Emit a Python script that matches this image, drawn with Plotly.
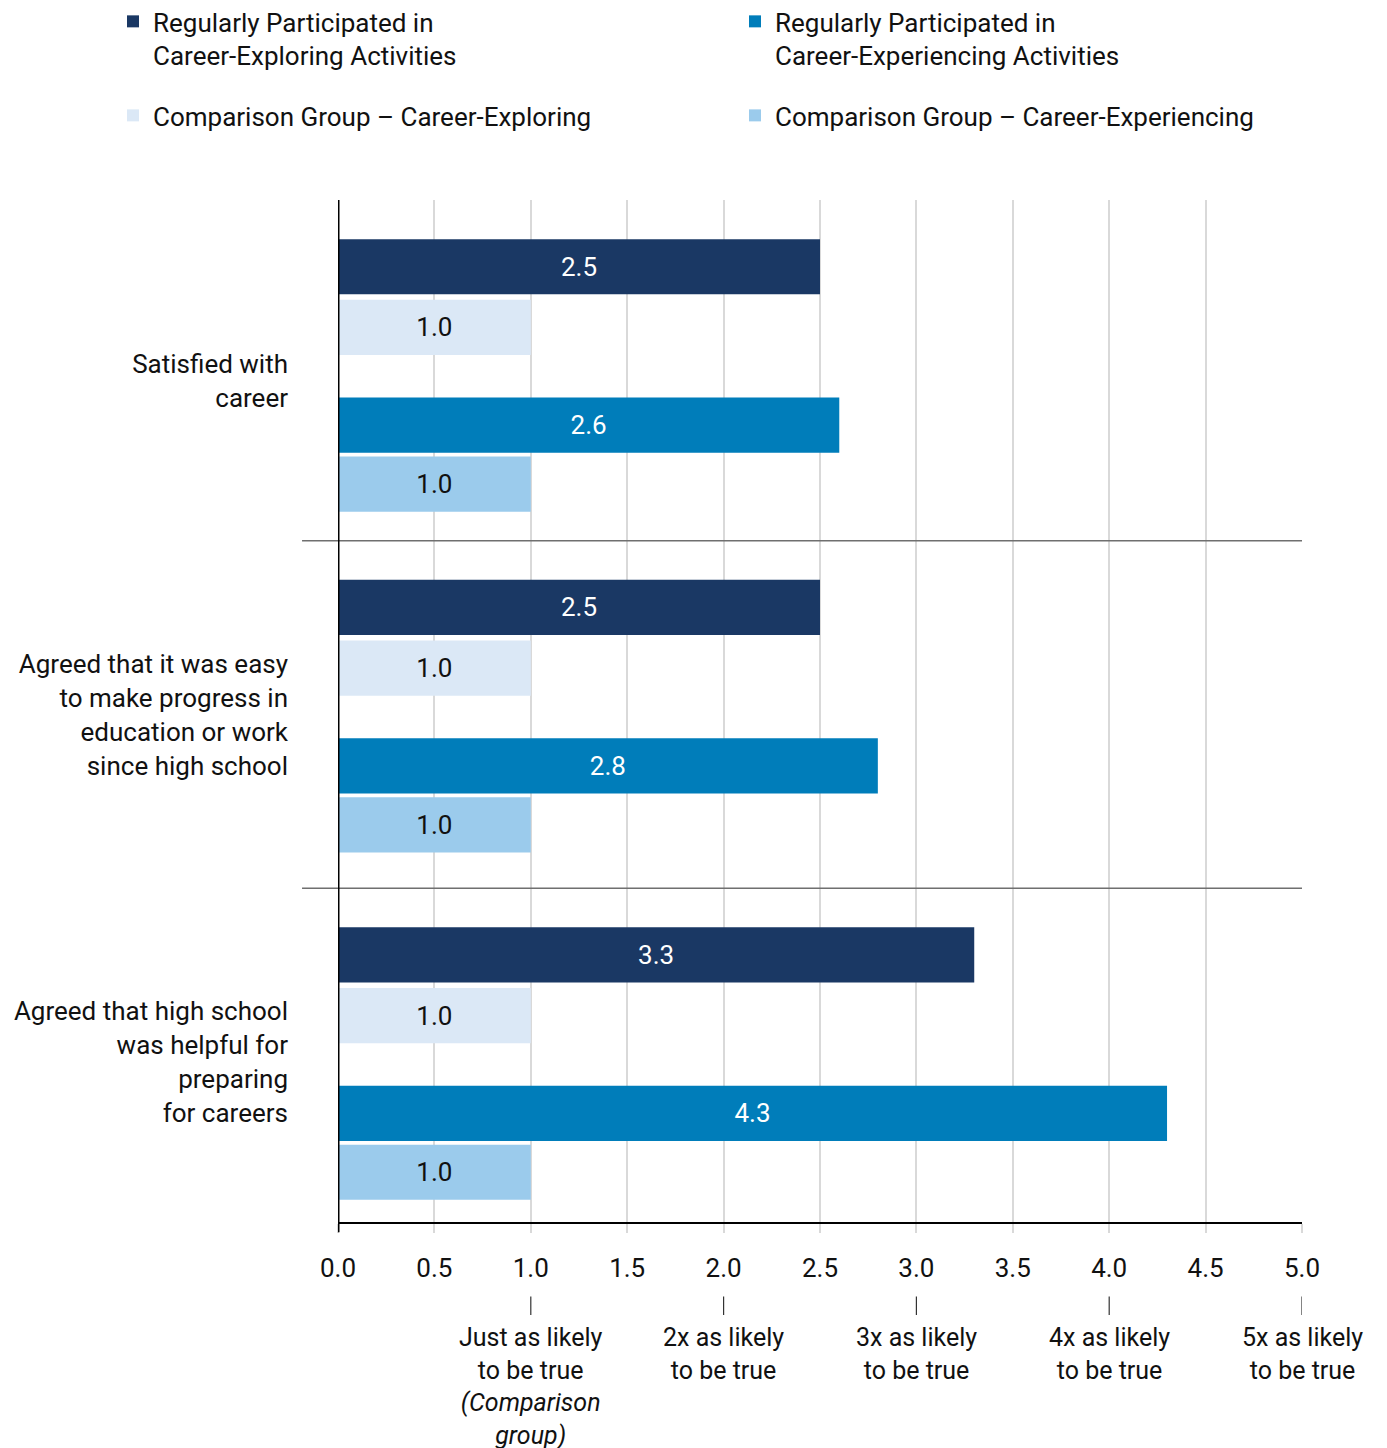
import plotly.graph_objects as go

# Outcome categories (one group of four bars each)
categories = [
    "Satisfied with<br>career",
    "Agreed that it was easy<br>to make progress in<br>education or work<br>since high school",
    "Agreed that high school<br>was helpful for<br>preparing<br>for careers",
]

# Relative likelihood values per series
exploring = [2.5, 2.5, 3.3]
comp_exploring = [1.0, 1.0, 1.0]
experiencing = [2.6, 2.8, 4.3]
comp_experiencing = [1.0, 1.0, 1.0]

series_names = [
    "Regularly Participated in<br>Career-Exploring Activities",
    "Comparison Group – Career-Exploring",
    "Regularly Participated in<br>Career-Experiencing Activities",
    "Comparison Group – Career-Experiencing",
]

# Axis tick labels and the explanatory labels under them
x_ticks = [0.0, 0.5, 1.0, 1.5, 2.0, 2.5, 3.0, 3.5, 4.0, 4.5, 5.0]
likelihood_ticks = [1, 2, 3, 4, 5]
likelihood_labels = [
    "Just as likely<br>to be true<br><i>(Comparison<br>group)</i>",
    "2x as likely<br>to be true",
    "3x as likely<br>to be true",
    "4x as likely<br>to be true",
    "5x as likely<br>to be true",
]

# Layout of the category bands on the y axis
group_starts = [0.0, 1.0, 2.02]
label_offsets = [0.53, 0.512, 0.51]          # where each category label sits
slot_offsets = [0.196, 0.374, 0.661, 0.834]  # bar position inside each group

# Styling
colors = ["#1a3864", "#dbe8f6", "#007dba", "#9bcbec"]
text_colors = ["white", "#111111", "white", "#111111"]
# one legend per entry: 2x2 grid (exploring left, experiencing right)
legend_ids = ["legend", "legend3", "legend2", "legend4"]
FONT = "Roboto"

series_values = [exploring, comp_exploring, experiencing, comp_experiencing]

fig = go.Figure()
for i, vals in enumerate(series_values):
    fig.add_trace(go.Bar(
        orientation="h",
        x=vals,
        y=[g + slot_offsets[i] for g in group_starts],
        width=0.162,
        name=series_names[i],
        marker=dict(color=colors[i], line=dict(width=0)),
        text=[f"{v:.1f}" for v in vals],
        textposition="inside",
        insidetextanchor="middle",
        textangle=0,
        constraintext="none",
        textfont=dict(family=FONT, size=26, color=text_colors[i]),
        legend=legend_ids[i],
        hoverinfo="x+name",
    ))

shapes = []
# Separator lines between outcome groups
for b in group_starts[1:]:
    shapes.append(dict(type="line", xref="paper", yref="y",
                       x0=-0.0373, x1=1, y0=b, y1=b,
                       line=dict(color="#6f6f6f", width=1.5)))
# Heavy baseline at zero
shapes.append(dict(type="line", xref="x", yref="paper",
                   x0=0, x1=0, y0=1, y1=-0.01,
                   line=dict(color="black", width=3)))
# Small markers linking ticks to their likelihood labels
for t in likelihood_ticks:
    shapes.append(dict(type="line", xref="x", yref="paper",
                       x0=t, x1=t, y0=-0.073, y1=-0.091,
                       line=dict(color="#333333", width=1.2)))

annotations = []
for t, lab in zip(likelihood_ticks, likelihood_labels):
    annotations.append(dict(
        x=t, y=-0.097, xref="x", yref="paper",
        text=lab, showarrow=False, xanchor="center", yanchor="top",
        align="center", font=dict(family=FONT, size=25, color="#111111"),
    ))

legend_common = dict(
    orientation="v",
    xanchor="left",
    yanchor="top",
    valign="top",
    font=dict(family=FONT, size=26, color="#111111"),
    bgcolor="rgba(0,0,0,0)",
)
col_x = [-0.2334, 0.4118]
row_y = [1.1977, 1.1057]

fig.update_layout(
    width=1387,
    height=1448,
    margin=dict(l=338, r=85, t=200, b=226, autoexpand=False),
    paper_bgcolor="white",
    plot_bgcolor="white",
    font=dict(family=FONT, size=26, color="#111111"),
    barmode="overlay",
    showlegend=True,
    legend=dict(x=col_x[0], y=row_y[0], **legend_common),
    legend2=dict(x=col_x[1], y=row_y[0], **legend_common),
    legend3=dict(x=col_x[0], y=row_y[1], **legend_common),
    legend4=dict(x=col_x[1], y=row_y[1], **legend_common),
    shapes=shapes,
    annotations=annotations,
    xaxis=dict(
        range=[0, 5],
        tickvals=x_ticks,
        ticktext=[f"{v:.1f}" for v in x_ticks],
        showgrid=True,
        gridcolor="#d9d9d9",
        gridwidth=1.5,
        zeroline=False,
        showline=True,
        linecolor="black",
        linewidth=1.5,
        ticks="outside",
        ticklen=9,
        tickcolor="#d9d9d9",
        tickwidth=1.5,
        ticklabelstandoff=13,
        tickfont=dict(family=FONT, size=26, color="#111111"),
    ),
    yaxis=dict(
        range=[3, 0],
        tickvals=[g + o for g, o in zip(group_starts, label_offsets)],
        ticktext=categories,
        showgrid=False,
        zeroline=False,
        showline=False,
        ticks="",
        ticklabelstandoff=49,
        tickfont=dict(family=FONT, size=26, color="#111111"),
    ),
)

fig.write_html("out.html")
